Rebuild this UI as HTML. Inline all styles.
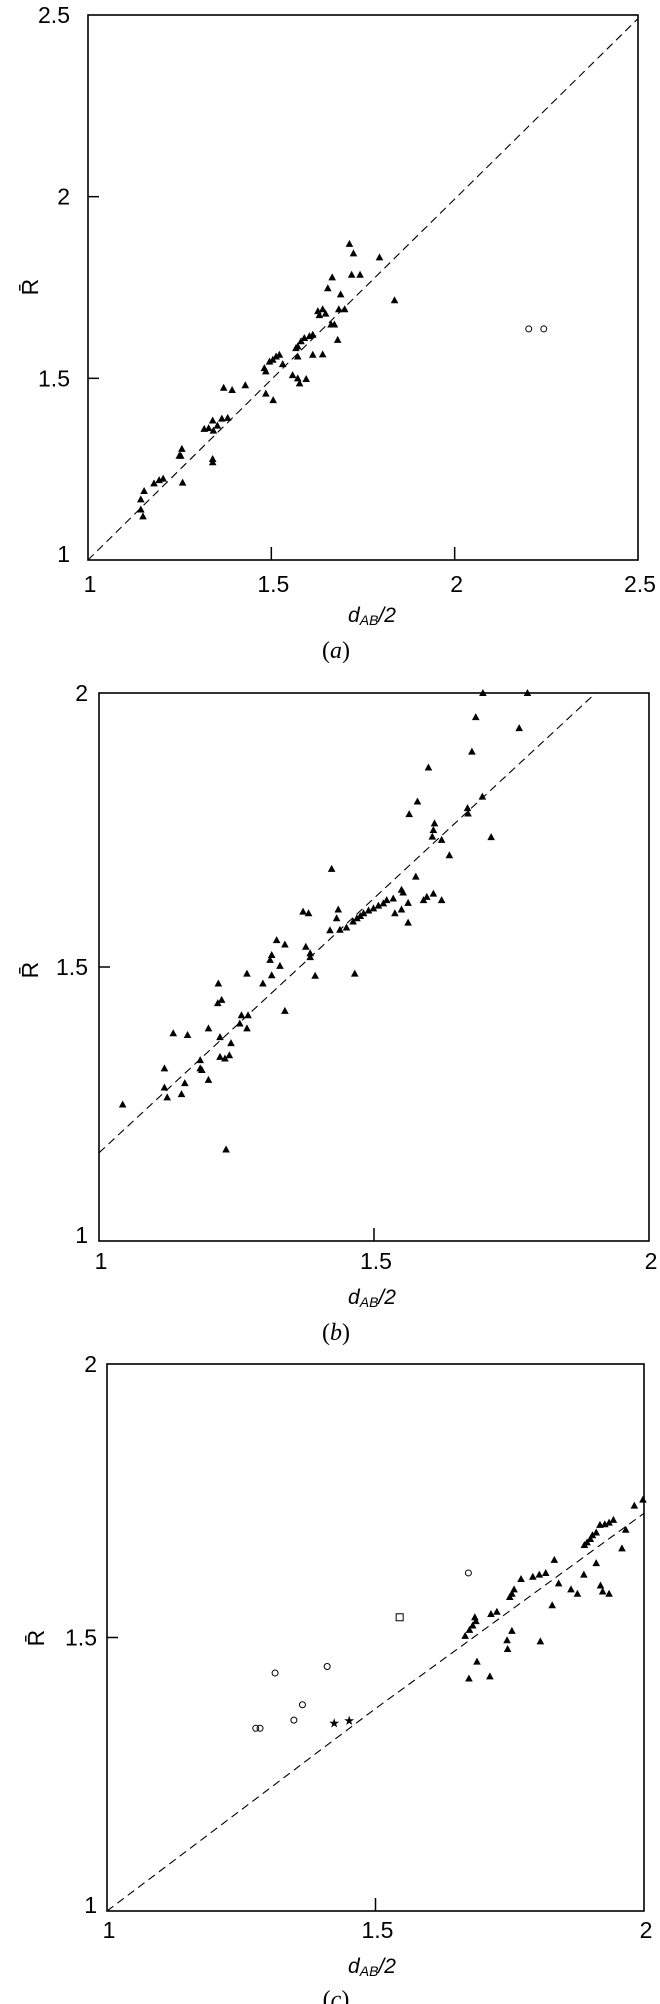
<!DOCTYPE html>
<html><head><meta charset="utf-8">
<style>
html,body{margin:0;padding:0;background:#fff;}
svg{display:block;}
.tk{font-family:"Liberation Sans",sans-serif;font-size:23px;fill:#000;}
.ax{font-family:"Liberation Sans",sans-serif;font-size:21px;font-style:italic;fill:#000;}
.cap{font-family:"Liberation Serif",serif;font-size:24px;fill:#000;}
</style></head>
<body>
<svg id="fig" width="660" height="2004" viewBox="0 0 660 2004" xmlns="http://www.w3.org/2000/svg">
<rect width="660" height="2004" fill="#fff"/>
</svg>
<script>
// Panel (a) data
const aTriX = [1.713,1.724,1.795,1.666,1.719,1.742,1.654,1.689,1.836,1.684,1.700,1.627,1.640,1.648,1.631,1.663,1.672,1.681,1.613,1.604,1.590,1.581,1.572,1.567,1.572,1.613,1.640,1.531,1.522,1.513,1.504,1.495,1.481,1.485,1.558,1.572,1.577,1.595,1.485,1.505,1.429,1.393,1.370,1.381,1.365,1.353,1.340,1.342,1.329,1.317,1.340,1.340,1.256,1.253,1.249,1.258,1.205,1.194,1.180,1.153,1.144,1.144,1.150];
const aTriY = [1.870,1.844,1.833,1.778,1.785,1.785,1.748,1.731,1.715,1.690,1.690,1.685,1.690,1.678,1.674,1.648,1.648,1.606,1.620,1.616,1.611,1.602,1.588,1.583,1.560,1.565,1.566,1.539,1.565,1.560,1.551,1.546,1.528,1.519,1.509,1.500,1.486,1.498,1.458,1.440,1.481,1.468,1.474,1.391,1.389,1.370,1.384,1.356,1.363,1.361,1.269,1.278,1.306,1.287,1.287,1.213,1.224,1.220,1.211,1.190,1.167,1.139,1.120];
const aCircX = [2.202,2.243];
const aCircY = [1.636,1.636];
const aLineX = [1,2.5];
const aLineY = [1,2.49];
const aXTicks = [1,1.5,2,2.5];
const aXTickLabels = ["1","1.5","2","2.5"];
const aYTicks = [1,1.5,2,2.5];
const aYTickLabels = ["1","1.5","2","2.5"];

// Panel (b) data
const bTriX = [1.698,1.779,1.685,1.764,1.678,1.599,1.579,1.564,1.697,1.670,1.671,1.610,1.608,1.606,1.623,1.713,1.637,1.423,1.576,1.550,1.553,1.535,1.523,1.562,1.550,1.538,1.562,1.596,1.608,1.623,1.590,1.517,1.508,1.499,1.490,1.481,1.475,1.469,1.462,1.450,1.438,1.420,1.432,1.435,1.371,1.381,1.323,1.338,1.376,1.384,1.384,1.393,1.465,1.314,1.311,1.329,1.314,1.298,1.269,1.217,1.223,1.216,1.259,1.271,1.256,1.269,1.199,1.135,1.161,1.220,1.240,1.184,1.187,1.184,1.220,1.229,1.237,1.199,1.119,1.119,1.156,1.150,1.124,1.338,1.043,1.231];
const bTriY = [2.0,2.0,1.956,1.936,1.893,1.864,1.802,1.779,1.811,1.790,1.780,1.762,1.750,1.738,1.732,1.737,1.704,1.679,1.665,1.641,1.636,1.625,1.622,1.617,1.605,1.598,1.581,1.628,1.634,1.622,1.622,1.616,1.612,1.607,1.603,1.598,1.593,1.589,1.583,1.572,1.568,1.567,1.589,1.605,1.601,1.598,1.549,1.541,1.537,1.525,1.518,1.484,1.488,1.522,1.513,1.502,1.485,1.470,1.488,1.470,1.440,1.434,1.412,1.412,1.397,1.388,1.388,1.379,1.376,1.372,1.361,1.330,1.312,1.315,1.336,1.333,1.339,1.294,1.315,1.280,1.288,1.268,1.262,1.420,1.249,1.167];
const bLineX = [1,1.903];
const bLineY = [1.161,2.0];
const bXTicks = [1,1.5,2];
const bXTickLabels = ["1","1.5","2"];
const bYTicks = [1,1.5,2];
const bYTickLabels = ["1","1.5","2"];

// Panel (c) data
const cTriX = [1.998,1.982,1.943,1.935,1.927,1.918,1.911,1.904,1.900,1.894,1.889,1.966,1.959,1.911,1.888,1.833,1.817,1.805,1.793,1.771,1.758,1.754,1.750,1.841,1.864,1.876,1.919,1.923,1.935,1.829,1.726,1.715,1.685,1.687,1.681,1.675,1.667,1.754,1.745,1.746,1.807,1.689,1.674,1.713];
const cTriY = [1.752,1.741,1.715,1.710,1.707,1.706,1.692,1.687,1.680,1.674,1.669,1.697,1.663,1.636,1.615,1.642,1.618,1.615,1.611,1.607,1.588,1.580,1.574,1.599,1.588,1.580,1.595,1.584,1.580,1.559,1.547,1.543,1.537,1.530,1.522,1.514,1.503,1.512,1.495,1.479,1.493,1.456,1.425,1.429];
const cCircX = [1.673,1.277,1.285,1.313,1.348,1.364,1.410];
const cCircY = [1.618,1.334,1.334,1.435,1.349,1.377,1.447];
const cSqX = [1.545];
const cSqY = [1.537];
const cStarX = [1.423,1.451];
const cStarY = [1.342,1.346];
const cLineX = [1,1.5,2];
const cLineY = [1,1.37,1.727];
const cXTicks = [1,1.5,2];
const cXTickLabels = ["1","1.5","2"];
const cYTicks = [1,1.5,2];
const cYTickLabels = ["1","1.5","2"];

const NS = "http://www.w3.org/2000/svg";
const fig = document.getElementById('fig');
function mk(tag, attrs, parent){
  const e = document.createElementNS(NS, tag);
  for (const k in attrs) e.setAttribute(k, attrs[k]);
  (parent||fig).appendChild(e);
  return e;
}
function scale(d0,d1,p0,p1){ return v => p0 + (v-d0)/(d1-d0)*(p1-p0); }

function panel(cfg){
  const g = mk('g', {});
  
  
  const X = scale(cfg.xd[0], cfg.xd[1], cfg.L, cfg.R);
  const Y = scale(cfg.yd[0], cfg.yd[1], cfg.B, cfg.T);
  const pts = cfg.lineX.map((v,i)=>X(v).toFixed(1)+','+Y(cfg.lineY[i]).toFixed(1)).join(' ');
  const ln = mk('polyline', {points:pts, fill:'none', stroke:'#000', 'stroke-width':1.1, 'stroke-dasharray':'8,5'}, g);
  
  
  const fr = mk('rect', {x:cfg.L, y:cfg.T, width:cfg.R-cfg.L, height:cfg.B-cfg.T, fill:'none', stroke:'#000', 'stroke-width':1.6}, g);
  
  
  cfg.xTicks.forEach((v,i)=>{
    const x = X(v);
    if (v > cfg.xd[0] && v < cfg.xd[1]) {
      const t = mk('line', {x1:x, x2:x, y1:cfg.B, y2:cfg.B-13, stroke:'#000', 'stroke-width':1.5}, g);
      
      
    }
    const tx = mk('text', {x:x+2, y:cfg.xLabY, 'text-anchor':'middle', 'dominant-baseline':'central', class:'tk'}, g);
    tx.textContent = cfg.xLabels[i];
    
    
  });
  cfg.yTicks.forEach((v,i)=>{
    const y = Y(v);
    if (v > cfg.yd[0] && v < cfg.yd[1]) {
      const t = mk('line', {x1:cfg.L, x2:cfg.L+11, y1:y, y2:y, stroke:'#000', 'stroke-width':1.5}, g);
      
      
    }
    let yy = y;
    if (v === cfg.yd[0]) yy = y - 6;
    const tx = mk('text', {x:cfg.yLabX, y:yy, 'text-anchor':'end', 'dominant-baseline':'central', class:'tk'}, g);
    tx.textContent = cfg.yLabels[i];
    
    
  });
  const yt = mk('text', {x:0, y:0, 'text-anchor':'middle', 'dominant-baseline':'central', class:'tk', transform:'translate('+cfg.rX+','+cfg.rY+') rotate(-90)'}, g);
  yt.textContent = 'R\u0304';
  
  
  const xt = mk('text', {x:372, y:cfg.dY, 'text-anchor':'middle', 'dominant-baseline':'central', class:'ax'}, g);
  
  
  const t1 = mk('tspan', {}, xt); t1.textContent = 'd';
  const t2 = mk('tspan', {dy:5, 'font-size':14}, xt); t2.textContent = 'AB';
  const t3 = mk('tspan', {dy:-5}, xt); t3.textContent = '/2';
  const cp = mk('text', {x:336, y:cfg.capY, 'text-anchor':'middle', 'dominant-baseline':'central', class:'cap'}, g);
  
  
  const c1 = mk('tspan', {}, cp); c1.textContent = '(';
  const c2 = mk('tspan', {'font-style':'italic'}, cp); c2.textContent = cfg.id;
  const c3 = mk('tspan', {}, cp); c3.textContent = ')';
  (cfg.triX||[]).forEach((v,i)=>{
    const x = X(v), y = Y(cfg.triY[i]);
    const p = mk('polygon', {points:(x-3.8)+','+(y+3)+' '+(x+3.8)+','+(y+3)+' '+x+','+(y-4), fill:'#000'}, g);
    
    
  });
  (cfg.circX||[]).forEach((v,i)=>{
    const c = mk('circle', {cx:X(v), cy:Y(cfg.circY[i]), r:3, fill:'none', stroke:'#000', 'stroke-width':1}, g);
    
    
  });
  (cfg.sqX||[]).forEach((v,i)=>{
    const s = mk('rect', {x:X(v)-3.5, y:Y(cfg.sqY[i])-3.5, width:7, height:7, fill:'none', stroke:'#000', 'stroke-width':1}, g);
    
    
  });
  (cfg.starX||[]).forEach((v,i)=>{
    const s = mk('text', {x:X(v), y:Y(cfg.starY[i]), 'text-anchor':'middle', 'dominant-baseline':'central', 'font-size':13, 'font-family':'DejaVu Sans, sans-serif'}, g);
    s.textContent = '\u2605';
    
    
  });
}

panel({id:'a', L:88, R:638, T:15, B:560, xd:[1,2.5], yd:[1,2.5],
  xTicks:aXTicks, xLabels:aXTickLabels, yTicks:aYTicks, yLabels:aYTickLabels,
  xLabY:584, yLabX:70, rX:30, rY:287, dY:615, capY:651,
  lineX:aLineX, lineY:aLineY, triX:aTriX, triY:aTriY, circX:aCircX, circY:aCircY});
panel({id:'b', L:99, R:649, T:693, B:1241, xd:[1,2], yd:[1,2],
  xTicks:bXTicks, xLabels:bXTickLabels, yTicks:bYTicks, yLabels:bYTickLabels,
  xLabY:1261, yLabX:88, rX:30, rY:970, dY:1297, capY:1333,
  lineX:bLineX, lineY:bLineY, triX:bTriX, triY:bTriY});
panel({id:'c', L:107, R:644, T:1364, B:1911, xd:[1,2], yd:[1,2],
  xTicks:cXTicks, xLabels:cXTickLabels, yTicks:cYTicks, yLabels:cYTickLabels,
  xLabY:1930, yLabX:97, rX:36, rY:1638, dY:1966, capY:2000,
  lineX:cLineX, lineY:cLineY, triX:cTriX, triY:cTriY, circX:cCircX, circY:cCircY,
  sqX:cSqX, sqY:cSqY, starX:cStarX, starY:cStarY});
</script>
</body></html>
